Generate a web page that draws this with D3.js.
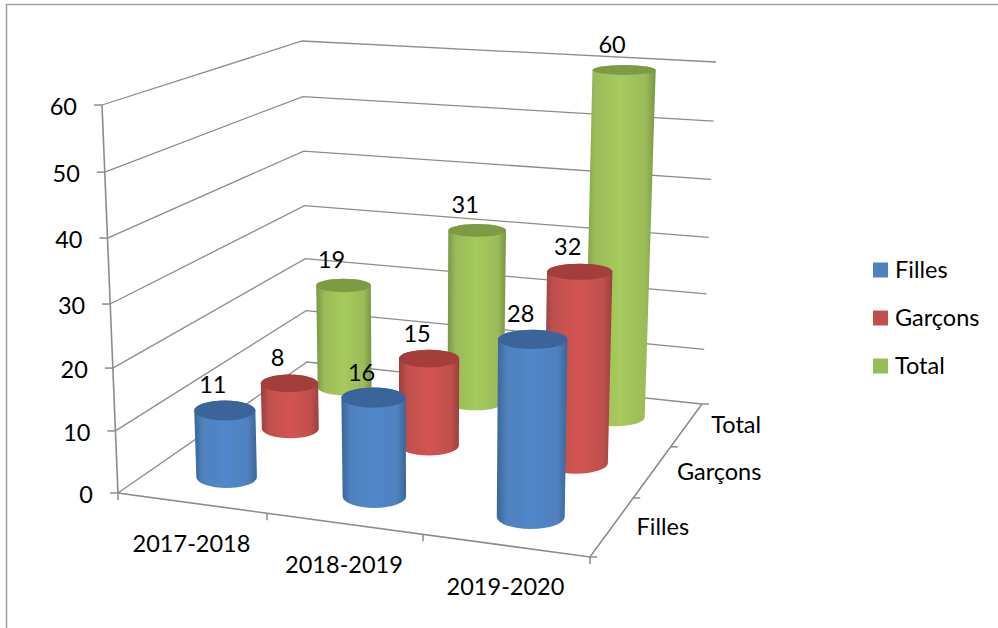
<!DOCTYPE html>
<html>
<head>
<meta charset="utf-8">
<script src="https://cdn.jsdelivr.net/npm/d3@7"></script>
<style>
  html, body { margin: 0; background: #fff; }
  text { font-family: Lato, "Open Sans", sans-serif; font-size: 23.5px; fill: #000; }
</style>
</head>
<body>
<svg width="998" height="628"></svg>
<script>
// data
const years = ["2017-2018", "2018-2019", "2019-2020"];
const seriesNames = ["Filles", "Garçons", "Total"];
const filles = [11, 16, 28];
const garcons = [8, 15, 32];
const total = [19, 31, 60];
const valueTicks = [0, 10, 20, 30, 40, 50, 60];

const seriesValues = [filles, garcons, total];
const colors = [
  { main: "#4f81bd", light: "#5088cb", dark: "#3a6699", top: "#3b659a" },
  { main: "#c0504d", light: "#d25451", dark: "#9c3f3c", top: "#a33e3b" },
  { main: "#9bbb59", light: "#a6ca5d", dark: "#7a9545", top: "#7d9a44" }
];

// corners of the 3d box on screen: f/b = front/back, l/r = left/right, 0/1 = floor/top
const box = {
  fl0: [118, 493], fr0: [590, 557], bl0: [307, 362], br0: [702, 404],
  fl1: [102, 105], fr1: [597, 150], bl1: [302, 41],  br1: [716, 62]
};

// scales go to 0..1 inside the box, the uneven steps are the perspective
const xScale = d3.scaleLinear().domain([0, 1, 2, 3]).range([0, 0.3157, 0.6462, 1]);
const zScale = d3.scaleLinear().domain([0, 1, 2, 3]).range([0, 0.386, 0.72, 1]);
const yScale = d3.scaleLinear().domain(valueTicks).range([0, 0.16, 0.322, 0.487, 0.657, 0.827, 1]);

function mix(a, b, t) {
  return [a[0] + (b[0] - a[0]) * t, a[1] + (b[1] - a[1]) * t];
}

// u along categories, w height, v depth
function project(u, w, v) {
  const floor = mix(mix(box.fl0, box.fr0, u), mix(box.bl0, box.br0, u), v);
  const top = mix(mix(box.fl1, box.fr1, u), mix(box.bl1, box.br1, u), v);
  return mix(floor, top, w);
}

const svg = d3.select("svg");

// outer frame of the chart
svg.append("path")
  .attr("d", "M6.5,628V4.5H998")
  .attr("fill", "none")
  .attr("stroke", "#a3a3a3")
  .attr("stroke-width", 1.6);

const line = d3.line();
const gridColor = "#8c8c8c";

function stroke(points, width) {
  svg.append("path")
    .attr("d", line(points))
    .attr("fill", "none")
    .attr("stroke", gridColor)
    .attr("stroke-width", width);
}

// gridlines on the two walls
valueTicks.forEach(t => {
  const w = yScale(t);
  stroke([project(0, w, 0), project(0, w, 1), project(1, w, 1)], 1.3);
});

// axes
stroke([project(0, 1, 0), project(0, 0, 0), project(1, 0, 0), project(1, 0, 1)], 1.6);

// value axis ticks and labels
valueTicks.forEach(t => {
  const p = project(0, yScale(t), 0);
  stroke([[p[0] - 8, p[1]], p], 1.5);
  svg.append("text")
    .attr("x", p[0] - 25)
    .attr("y", p[1] + 4)
    .attr("text-anchor", "end")
    .attr("dominant-baseline", "middle")
    .text(t);
});

// category ticks and labels
xScale.domain().forEach(d => {
  const p = project(xScale(d), 0, 0);
  stroke([p, [p[0], p[1] + 7]], 1.5);
});
years.forEach((name, i) => {
  const p = project(xScale(i + 0.5), 0, 0);
  svg.append("text")
    .attr("x", p[0] - 1)
    .attr("y", p[1] + 43)
    .attr("text-anchor", "middle")
    .attr("dominant-baseline", "middle")
    .text(name);
});

// series ticks and labels
zScale.domain().forEach(d => {
  const p = project(1, 0, zScale(d));
  stroke([p, [p[0] + 7, p[1]]], 1.5);
});
seriesNames.forEach((name, j) => {
  const p = project(1, 0, zScale(j + 0.5));
  svg.append("text")
    .attr("x", p[0] + 25)
    .attr("y", p[1] + 2)
    .attr("dominant-baseline", "middle")
    .text(name);
});

// shading across a cylinder
const defs = svg.append("defs");
colors.forEach((c, j) => {
  const grad = defs.append("linearGradient").attr("id", "cyl" + j);
  [[0, c.dark], [0.14, c.main], [0.5, c.light], [0.86, c.main], [1, c.dark]].forEach(s => {
    grad.append("stop").attr("offset", s[0]).attr("stop-color", s[1]);
  });
});

// share of a cell that the cylinder radius takes
const radiusShare = 0.21;

function ellipseAt(i, j, value) {
  const u = xScale(i + 0.5), v = zScale(j + 0.5), w = yScale(value);
  const du = (xScale(i + 1) - xScale(i)) * radiusShare;
  const dv = (zScale(j + 1) - zScale(j)) * radiusShare;
  const c = project(u, w, v);
  return {
    x: c[0],
    y: c[1],
    rx: Math.abs(project(u + du, w, v)[0] - project(u - du, w, v)[0]) / 2,
    ry: Math.abs(project(u, w, v + dv)[1] - project(u, w, v - dv)[1]) / 2
  };
}

// back series first so the front ones cover them
d3.range(seriesNames.length).reverse().forEach(j => {
  years.forEach((year, i) => {
    const b = ellipseAt(i, j, 0);
    const t = ellipseAt(i, j, seriesValues[j][i]);
    svg.append("path")
      .attr("d", `M${t.x - t.rx},${t.y}L${b.x - b.rx},${b.y}` +
        `A${b.rx},${b.ry} 0 0 0 ${b.x + b.rx},${b.y}L${t.x + t.rx},${t.y}` +
        `A${t.rx},${t.ry} 0 0 0 ${t.x - t.rx},${t.y}Z`)
      .attr("fill", `url(#cyl${j})`);
    svg.append("ellipse")
      .attr("cx", t.x)
      .attr("cy", t.y)
      .attr("rx", t.rx)
      .attr("ry", t.ry)
      .attr("fill", colors[j].top);
  });
});

// value labels on top of everything
seriesValues.forEach((values, j) => {
  values.forEach((val, i) => {
    const t = ellipseAt(i, j, val);
    svg.append("text")
      .attr("x", t.x - 12)
      .attr("y", t.y - 23)
      .attr("text-anchor", "middle")
      .attr("dominant-baseline", "middle")
      .text(val);
  });
});

// legend
const legendY = d3.scalePoint().domain(seriesNames).range([270, 366]);
seriesNames.forEach((name, j) => {
  svg.append("rect")
    .attr("x", 873)
    .attr("y", legendY(name) - 7.5)
    .attr("width", 15)
    .attr("height", 15)
    .attr("fill", colors[j].main);
  svg.append("text")
    .attr("x", 895)
    .attr("y", legendY(name) + 2)
    .attr("dominant-baseline", "middle")
    .text(name);
});
</script>
</body>
</html>
